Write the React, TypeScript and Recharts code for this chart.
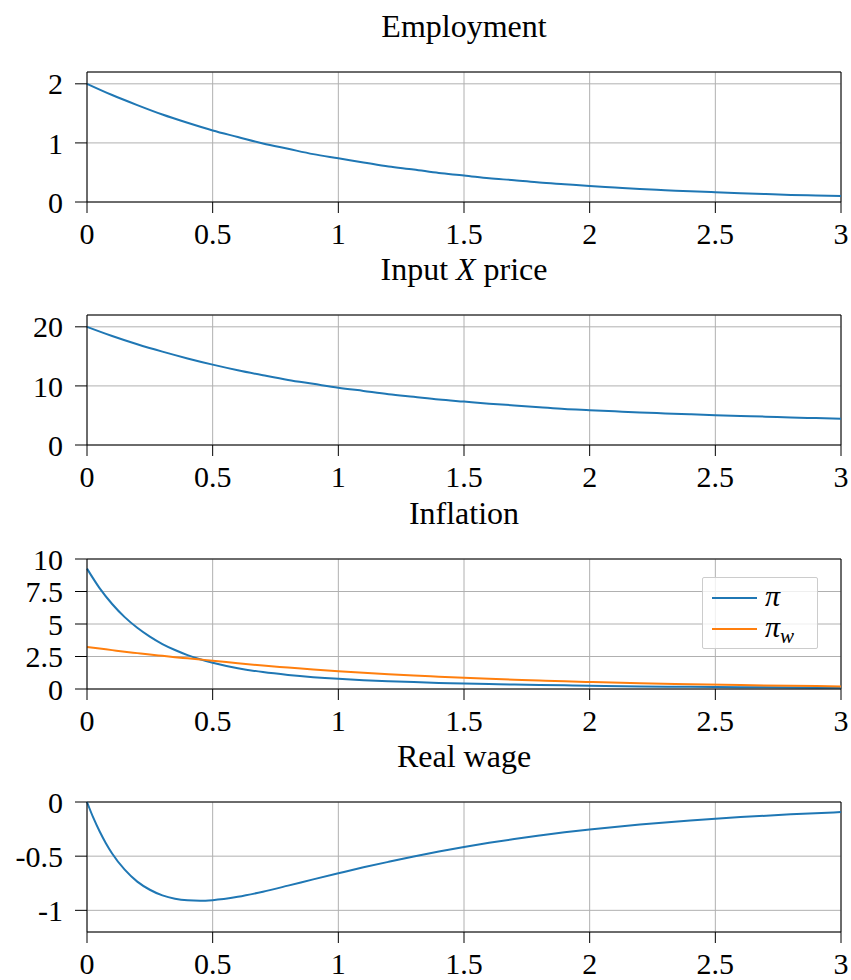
import React from 'react';
import { LineChart, Line, XAxis, YAxis, CartesianGrid, ReferenceLine, Legend } from 'recharts';

// time grid for the two upper panels (step 0.1)
const tCoarse = [
  0, 0.1, 0.2, 0.3, 0.4, 0.5, 0.6, 0.7, 0.8, 0.9, 1, 1.1, 1.2, 1.3, 1.4, 1.5,
  1.6, 1.7, 1.8, 1.9, 2, 2.1, 2.2, 2.3, 2.4, 2.5, 2.6, 2.7, 2.8, 2.9, 3,
];
const employment = [
  2.0, 1.81, 1.64, 1.48, 1.34, 1.21, 1.1, 0.99, 0.9, 0.81, 0.74, 0.67, 0.6, 0.55, 0.49, 0.45,
  0.4, 0.37, 0.33, 0.3, 0.27, 0.245, 0.22, 0.2, 0.18, 0.165, 0.15, 0.135, 0.12, 0.11, 0.1,
];
const inputPrice = [
  20.0, 18.45, 17.05, 15.8, 14.65, 13.6, 12.65, 11.8, 11.0, 10.35, 9.7, 9.15, 8.6, 8.15, 7.7, 7.35,
  7.0, 6.7, 6.4, 6.1, 5.9, 5.7, 5.5, 5.35, 5.2, 5.05, 4.9, 4.8, 4.65, 4.55, 4.45,
];

// finer grid near the start for the inflation panel
const tFine = [
  0, 0.05, 0.1, 0.15, 0.2, 0.25, 0.3, 0.35, 0.4, 0.45, 0.5, 0.6, 0.7, 0.8, 0.9, 1,
  1.1, 1.2, 1.3, 1.4, 1.5, 1.6, 1.7, 1.8, 1.9, 2, 2.2, 2.4, 2.6, 2.8, 3,
];
const piPrice = [
  9.26, 7.76, 6.54, 5.53, 4.71, 4.03, 3.46, 3.0, 2.61, 2.29, 2.02, 1.6, 1.3, 1.08, 0.91, 0.78,
  0.68, 0.6, 0.53, 0.47, 0.42, 0.38, 0.34, 0.31, 0.28, 0.25, 0.2, 0.17, 0.14, 0.11, 0.09,
];
const piWage = [
  3.23, 3.11, 2.99, 2.87, 2.76, 2.65, 2.55, 2.45, 2.36, 2.27, 2.18, 1.98, 1.8, 1.65, 1.5, 1.37,
  1.25, 1.14, 1.04, 0.95, 0.86, 0.78, 0.71, 0.65, 0.59, 0.54, 0.45, 0.37, 0.3, 0.25, 0.2,
];

const tWage = [
  0, 0.025, 0.05, 0.075, 0.1, 0.15, 0.2, 0.25, 0.3, 0.35, 0.4, 0.45, 0.5, 0.6, 0.7, 0.8,
  0.9, 1, 1.1, 1.2, 1.3, 1.4, 1.5, 1.6, 1.7, 1.8, 1.9, 2, 2.2, 2.4, 2.6, 2.8, 3,
];
const realWage = [
  0, -0.145, -0.27, -0.38, -0.475, -0.625, -0.735, -0.81, -0.862, -0.893, -0.908, -0.912, -0.906, -0.875, -0.828, -0.772,
  -0.714, -0.658, -0.603, -0.552, -0.503, -0.457, -0.415, -0.377, -0.342, -0.31, -0.28, -0.254, -0.208, -0.17, -0.139, -0.114, -0.093,
];

const xTicks = [0, 0.5, 1, 1.5, 2, 2.5, 3];

const BLUE = '#1f77b4';
const ORANGE = '#ff7f0e';
const FONT = '"Liberation Serif", "Times New Roman", serif';

const employmentData = tCoarse.map((t, i) => ({ t, v: employment[i] }));
const priceData = tCoarse.map((t, i) => ({ t, v: inputPrice[i] }));
const inflationData = tFine.map((t, i) => ({ t, pi: piPrice[i], piw: piWage[i] }));
const wageData = tWage.map((t, i) => ({ t, v: realWage[i] }));

const W = 851;
const H = 262;

function InflationLegend() {
  const row = (color: string, top: number, label: React.ReactNode) => (
    <div style={{ position: 'absolute', left: 0, top, width: '100%', height: 30 }}>
      <div style={{ position: 'absolute', left: 9, top: 14, width: 45, height: 2, background: color }} />
      <div style={{ position: 'absolute', left: 62, top: -2, fontSize: 30, fontStyle: 'italic', lineHeight: '30px' }}>
        {label}
      </div>
    </div>
  );
  return (
    <div
      style={{
        position: 'relative',
        width: 116,
        height: 72,
        boxSizing: 'border-box',
        border: '1px solid #cccccc',
        borderRadius: 2,
        background: 'rgba(255,255,255,0.8)',
        fontFamily: FONT,
        color: '#000',
      }}
    >
      {row(BLUE, 5, 'π')}
      {row(ORANGE, 36, <span>π<sub style={{ fontSize: 21, verticalAlign: '-6px', lineHeight: 0 }}>w</sub></span>)}
    </div>
  );
}

interface PanelProps {
  title: React.ReactNode;
  top: number;
  data: any[];
  yDomain: [number, number];
  yTicks: number[];
  children: React.ReactNode;
}

function Panel({ title, top, data, yDomain, yTicks, children }: PanelProps) {
  return (
    <div style={{ position: 'absolute', left: 0, top, width: W, height: H }}>
      <div
        style={{
          position: 'absolute',
          left: 87,
          width: 754,
          top: 10,
          textAlign: 'center',
          fontSize: 32,
          lineHeight: '32px',
          fontFamily: FONT,
          color: '#000',
        }}
      >
        {title}
      </div>
      <LineChart width={W} height={H} data={data} margin={{ top: 72, right: 10, bottom: 20, left: 17 }}>
        <CartesianGrid stroke="#b0b0b0" strokeWidth={1} />
        <XAxis
          dataKey="t"
          type="number"
          domain={[0, 3]}
          ticks={xTicks}
          interval={0}
          height={40}
          tickSize={11}
          tickMargin={10}
          axisLine={{ stroke: '#000' }}
          tickLine={{ stroke: '#000' }}
          tick={{ fontSize: 30, fill: '#000', fontFamily: FONT }}
        />
        <YAxis
          type="number"
          domain={yDomain}
          ticks={yTicks}
          interval={0}
          width={70}
          tickSize={12}
          tickMargin={12}
          axisLine={{ stroke: '#000' }}
          tickLine={{ stroke: '#000' }}
          tick={{ fontSize: 30, fill: '#000', fontFamily: FONT }}
        />
        <ReferenceLine y={yDomain[1]} stroke="#000" strokeWidth={1} />
        <ReferenceLine x={3} stroke="#000" strokeWidth={1} />
        {children}
      </LineChart>
    </div>
  );
}

export default function App() {
  return (
    <div style={{ position: 'absolute', left: 0, top: 0, width: W, height: 980, background: '#fff', fontFamily: FONT }}>
      <Panel title="Employment" top={0} data={employmentData} yDomain={[0, 2.2]} yTicks={[0, 1, 2]}>
        <Line dataKey="v" type="monotone" stroke={BLUE} strokeWidth={2} dot={false} isAnimationActive={false} />
      </Panel>
      <Panel
        title={<span>Input <i>X</i> price</span>}
        top={243}
        data={priceData}
        yDomain={[0, 22]}
        yTicks={[0, 10, 20]}
      >
        <Line dataKey="v" type="monotone" stroke={BLUE} strokeWidth={2} dot={false} isAnimationActive={false} />
      </Panel>
      <Panel title="Inflation" top={487} data={inflationData} yDomain={[0, 10]} yTicks={[0, 2.5, 5, 7.5, 10]}>
        <Line dataKey="pi" name="π" type="monotone" stroke={BLUE} strokeWidth={2} dot={false} isAnimationActive={false} />
        <Line dataKey="piw" name="πw" type="monotone" stroke={ORANGE} strokeWidth={2} dot={false} isAnimationActive={false} />
        <Legend
          layout="vertical"
          align="center"
          verticalAlign="middle"
          content={<InflationLegend />}
          wrapperStyle={{ left: 702, top: 90, width: 116, height: 72 }}
        />
      </Panel>
      <Panel title="Real wage" top={730} data={wageData} yDomain={[-1.2, 0]} yTicks={[-1, -0.5, 0]}>
        <Line dataKey="v" type="monotone" stroke={BLUE} strokeWidth={2} dot={false} isAnimationActive={false} />
      </Panel>
    </div>
  );
}
